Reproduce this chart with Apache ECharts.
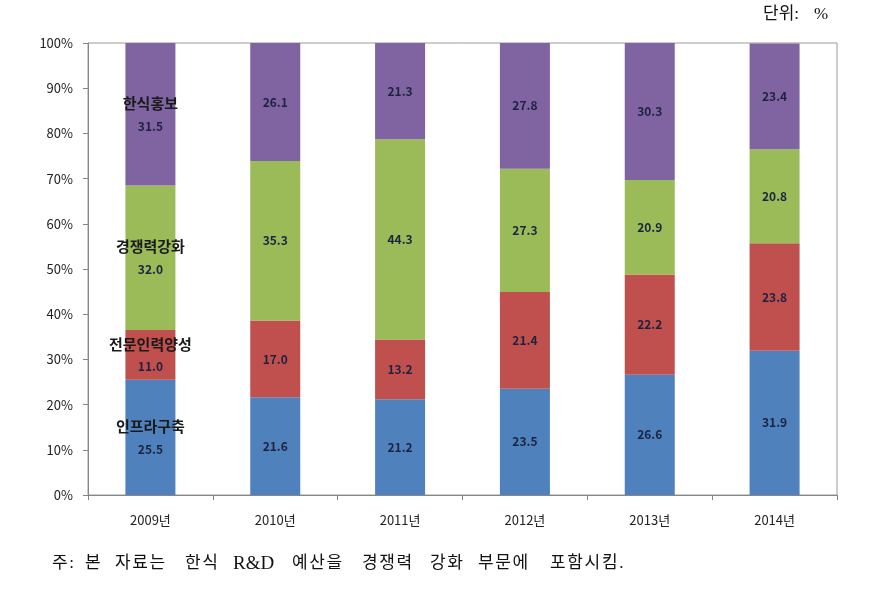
<!DOCTYPE html>
<html><head><meta charset="utf-8">
<script src="https://cdn.jsdelivr.net/npm/echarts@6/dist/echarts.min.js"></script>
<style>html,body{margin:0;padding:0;background:#fff}#c{width:890px;height:599px}</style>
</head><body><div id="c"></div>
<script>
const categories = ['2009년','2010년','2011년','2012년','2013년','2014년'];
const seriesNames = ['인프라구축','전문인력양성','경쟁력강화','한식홍보'];
const infra = [25.5, 21.6, 21.2, 23.5, 26.6, 31.9];
const talent = [11.0, 17.0, 13.2, 21.4, 22.2, 23.8];
const compete = [32.0, 35.3, 44.3, 27.3, 20.9, 20.8];
const promo = [31.5, 26.1, 21.3, 27.8, 30.3, 23.4];
const colors = ['#4F81BD','#C0504D','#9BBB59','#8064A2'];
const yTicks = [0,10,20,30,40,50,60,70,80,90,100];
const noteWords = ['주:','본','자료는','한식','R&D','예산을','경쟁력','강화','부문에','포함시킴.'];
const noteX = [52, 85, 115, 185, 233, 292, 362, 430, 478, 550];

const FONT = 'Noto Sans CJK KR';
const SERIF = 'Liberation Serif, Noto Sans CJK KR';
const chart = echarts.init(document.getElementById('c'));
const valueLabel = {
  show: true, position: 'inside', color: '#1c2340', fontSize: 12, fontWeight: 'bold',
  fontFamily: FONT, formatter: p => p.value.toFixed(1)
};
function makeData(arr, name){
  return arr.map((v,i)=> i===0 ? {
    value: v,
    label: {
      formatter: '{n|' + name + '}\n{v|' + v.toFixed(1) + '}',
      rich: {
        n: {fontSize: 15, fontWeight: 'bold', color: '#1a1a1a', fontFamily: FONT, lineHeight: 24},
        v: {fontSize: 12, fontWeight: 'bold', color: '#1c2340', fontFamily: FONT, lineHeight: 22}
      }
    }
  } : v);
}
const all = [infra, talent, compete, promo];
const graphics = [
  {type:'text', left: 763, top: 6, style:{text:'단위:', fontSize: 17, fill:'#111', fontFamily: SERIF}},
  {type:'text', left: 814, top: 6, style:{text:'%', fontSize: 17, fill:'#111', fontFamily: SERIF}}
];
noteWords.forEach((w,i)=>{
  if (/^[A-Za-z&]+$/.test(w)) {
    graphics.push({type:'text', left: noteX[i], top: 555, style:{text: w, fontSize: 19, fill:'#111', fontFamily: SERIF}});
  } else {
    Array.from(w).forEach((ch,j)=>{
      graphics.push({type:'text', left: noteX[i] + j*17.3, top: 555, style:{text: ch, fontSize: 17, fill:'#111', fontFamily: SERIF}});
    });
  }
});
chart.setOption({
  animation: false,
  grid: {left: 88, right: 53, top: 43, bottom: 104, show: true, borderColor: '#9a9a9a', borderWidth: 1},
  graphic: graphics,
  xAxis: {
    type: 'category', data: categories,
    axisLine: {lineStyle: {color: '#868686'}},
    axisTick: {show: true, alignWithLabel: false, length: 5, lineStyle: {color: '#868686'}},
    axisLabel: {color: '#222', fontSize: 13, margin: 19, fontFamily: FONT}
  },
  yAxis: {
    type: 'value', min: 0, max: 100, interval: 10,
    axisLine: {show: true, lineStyle: {color: '#868686'}},
    axisTick: {show: true, length: 5, lineStyle: {color: '#868686'}},
    splitLine: {show: false},
    axisLabel: {color: '#222', fontSize: 13, margin: 15, fontFamily: FONT, formatter: v => yTicks.includes(v) ? v + '%' : ''}
  },
  series: all.map((arr, k) => ({
    name: seriesNames[k], type: 'bar', stack: 'total', barWidth: 50,
    itemStyle: {color: colors[k]},
    label: valueLabel,
    data: makeData(arr, seriesNames[k])
  }))
});
</script></body></html>
